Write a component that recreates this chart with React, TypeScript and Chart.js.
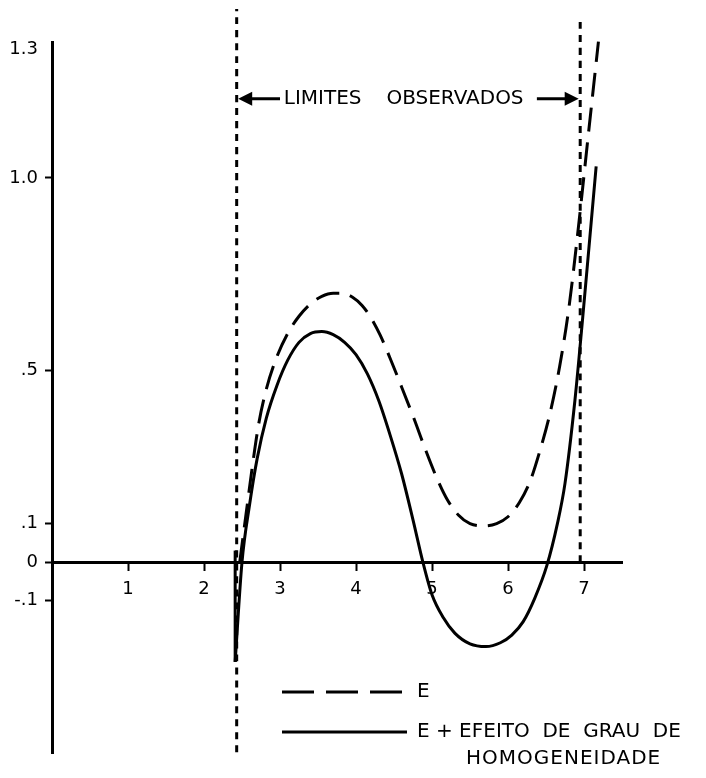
import React, { useEffect, useRef } from 'react';
import { Chart, registerables } from 'chart.js';

Chart.register(...registerables);

// ---- data ----
const xTickValues = [1, 2, 3, 4, 5, 6, 7];
const yTickValues = [-0.1, 0, 0.1, 0.5, 1.0, 1.335];
const yTickLabels = ['-.1', '0', '.1', '.5', '1.0', '1.3'];

// E (dashed curve)
const eX = [2.47, 2.55, 2.63, 2.72, 2.82, 2.95, 3.1, 3.25, 3.4, 3.55, 3.7, 3.82, 3.95, 4.08, 4.2, 4.32, 4.45, 4.6, 4.76, 4.9, 5.05, 5.2, 5.35, 5.5, 5.69, 5.85, 6.0, 6.15, 6.29, 6.42, 6.55, 6.68, 6.8, 6.92, 7.05, 7.19];
const eY = [0.0, 0.12, 0.24, 0.36, 0.45, 0.53, 0.595, 0.64, 0.672, 0.692, 0.7, 0.7, 0.69, 0.668, 0.635, 0.59, 0.53, 0.456, 0.375, 0.3, 0.225, 0.163, 0.122, 0.1, 0.094, 0.1, 0.118, 0.155, 0.21, 0.29, 0.385, 0.51, 0.66, 0.86, 1.1, 1.355];

// E + efeito de grau de homogeneidade (solid curve)
const ehX = [2.41, 2.5, 2.6, 2.7, 2.82, 2.96, 3.1, 3.25, 3.4, 3.55, 3.7, 3.85, 4.0, 4.15, 4.3, 4.45, 4.6, 4.75, 4.88, 5.0, 5.15, 5.3, 5.5, 5.71, 5.9, 6.05, 6.2, 6.35, 6.51, 6.65, 6.75, 6.88, 6.98, 7.07, 7.16];
const ehY = [-0.26, 0.0, 0.15, 0.27, 0.375, 0.46, 0.525, 0.572, 0.595, 0.6, 0.592, 0.572, 0.54, 0.49, 0.42, 0.33, 0.23, 0.11, 0.0, -0.085, -0.145, -0.185, -0.213, -0.22, -0.21, -0.19, -0.155, -0.095, -0.01, 0.1, 0.205, 0.42, 0.63, 0.83, 1.03];

// left edge of the wedge at the start of the solid curve
const spikeX = [2.41, 2.41];
const spikeY = [0.03, -0.26];

// observed limits (vertical dotted lines)
const limitLeftX = [2.43, 2.43];
const limitLeftY = [-0.495, 1.44];
const limitRightX = [6.95, 6.95];
const limitRightY = [0.0, 1.41];

const annotationWords = ['LIMITES', 'OBSERVADOS'];
const annotationY = 1.206;
const legendLabels = ['E', 'E + EFEITO  DE  GRAU  DE', 'HOMOGENEIDADE'];

const toPts = (xs: number[], ys: number[]) => xs.map((x, i) => ({ x, y: ys[i] }));

const FONT = '"DejaVu Sans", sans-serif';

const overlayPlugin = {
  id: 'overlay',
  afterDraw(chart: any) {
    const ctx = chart.ctx;
    const xs = chart.scales.x;
    const ys = chart.scales.y;
    ctx.save();
    ctx.fillStyle = '#000';
    ctx.strokeStyle = '#000';
    ctx.lineWidth = 3;
    ctx.font = '20px ' + FONT;
    ctx.textBaseline = 'middle';
    ctx.textAlign = 'left';

    const ay = ys.getPixelForValue(annotationY);
    // left arrow
    const lHead = xs.getPixelForValue(2.45);
    const lTail = xs.getPixelForValue(3.0);
    ctx.beginPath();
    ctx.moveTo(lTail, ay);
    ctx.lineTo(lHead + 8, ay);
    ctx.stroke();
    ctx.beginPath();
    ctx.moveTo(lHead, ay);
    ctx.lineTo(lHead + 14, ay - 7);
    ctx.lineTo(lHead + 14, ay + 7);
    ctx.closePath();
    ctx.fill();
    ctx.fillText(annotationWords[0], xs.getPixelForValue(3.05), ay);
    ctx.fillText(annotationWords[1], xs.getPixelForValue(4.4), ay);
    // right arrow
    const rHead = xs.getPixelForValue(6.93);
    const rTail = xs.getPixelForValue(6.38);
    ctx.beginPath();
    ctx.moveTo(rTail, ay);
    ctx.lineTo(rHead - 8, ay);
    ctx.stroke();
    ctx.beginPath();
    ctx.moveTo(rHead, ay);
    ctx.lineTo(rHead - 14, ay - 7);
    ctx.lineTo(rHead - 14, ay + 7);
    ctx.closePath();
    ctx.fill();

    // legend
    const lx0 = 282;
    const lx1 = 405;
    const ly1 = 692;
    const ly2 = 732;
    ctx.setLineDash([32, 12]);
    ctx.beginPath();
    ctx.moveTo(lx0, ly1);
    ctx.lineTo(lx1, ly1);
    ctx.stroke();
    ctx.setLineDash([]);
    ctx.beginPath();
    ctx.moveTo(lx0, ly2);
    ctx.lineTo(lx1 + 2, ly2);
    ctx.stroke();
    ctx.fillText(legendLabels[0], 417, ly1);
    ctx.fillText(legendLabels[1], 417, ly2);
    (ctx as any).letterSpacing = '1px';
    ctx.fillText(legendLabels[2], 466, ly2 + 27);
    ctx.restore();
  },
};

export default function App() {
  const ref = useRef<HTMLCanvasElement | null>(null);
  useEffect(() => {
    if (!ref.current) return;
    const solid = (label: string, xs: number[], ys: number[]) => ({
      label,
      data: toPts(xs, ys),
      borderColor: '#000',
      borderWidth: 3,
      pointRadius: 0,
      cubicInterpolationMode: 'monotone',
      clip: false as any,
    });
    const chart = new Chart(ref.current, {
      type: 'line',
      data: {
        datasets: [
          { ...solid('limite1', limitLeftX, limitLeftY), borderDash: [7, 6] },
          { ...solid('limite2', limitRightX, limitRightY), borderDash: [7, 6] },
          { ...solid('E', eX, eY), borderDash: [24, 11] },
          solid('E + EFEITO DE GRAU DE HOMOGENEIDADE', ehX, ehY),
          solid('spike', spikeX, spikeY),
        ],
      },
      options: {
        responsive: false,
        animation: false,
        events: [],
        layout: { padding: { top: 42, bottom: 25, left: 0, right: 84 } },
        plugins: { legend: { display: false }, tooltip: { enabled: false } },
        scales: {
          x: {
            type: 'linear',
            min: 0,
            max: 7.5,
            position: { y: 0 } as any,
            afterFit: (s: any) => {
              s.height = 0;
            },
            afterBuildTicks: (s: any) => {
              s.ticks = xTickValues.map((v) => ({ value: v }));
            },
            border: { display: true, color: '#000', width: 3 },
            grid: { display: true, drawOnChartArea: false, drawTicks: true, tickLength: 7, tickWidth: 2, tickColor: '#000' },
            ticks: {
              color: '#000',
              padding: 9,
              maxRotation: 0,
              autoSkip: false,
              font: { family: FONT, size: 18 },
              callback: (v: any) => String(v),
            },
          },
          y: {
            type: 'linear',
            min: -0.497,
            max: 1.354,
            position: 'left',
            afterFit: (s: any) => {
              s.width = 52;
            },
            afterBuildTicks: (s: any) => {
              s.ticks = yTickValues.map((v) => ({ value: v }));
            },
            border: { display: true, color: '#000', width: 3 },
            grid: {
              display: true,
              drawOnChartArea: false,
              drawTicks: true,
              tickLength: 7,
              tickWidth: 2,
              tickColor: (c: any) => (c.tick && c.tick.value === yTickValues[5] ? 'rgba(0,0,0,0)' : '#000'),
            },
            ticks: {
              color: '#000',
              padding: 7,
              autoSkip: false,
              font: { family: FONT, size: 18 },
              callback: (v: any) => {
                const i = yTickValues.indexOf(Number(v));
                return i >= 0 ? yTickLabels[i] : '';
              },
            },
          },
        },
      },
      plugins: [overlayPlugin],
    } as any);
    return () => chart.destroy();
  }, []);
  return (
    <div style={{ position: 'fixed', left: 0, top: 0, width: 706, height: 778, background: '#fff' }}>
      <canvas ref={ref} width={706} height={778} style={{ display: 'block' }} />
    </div>
  );
}
